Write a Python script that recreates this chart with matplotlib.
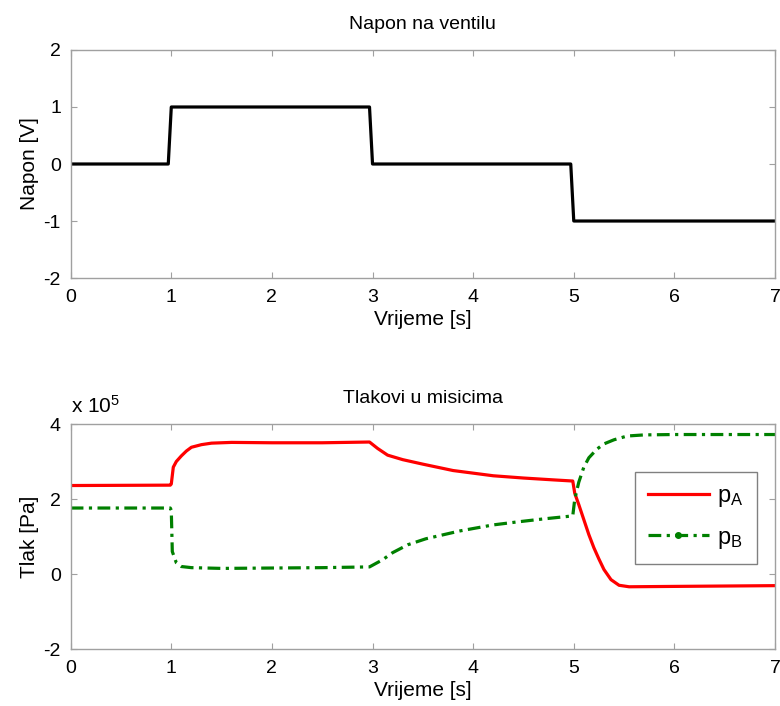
import numpy as np
import matplotlib
matplotlib.use('Agg')
import matplotlib.pyplot as plt
from matplotlib.lines import Line2D

plt.rcParams['font.family'] = ['Liberation Sans', 'DejaVu Sans']
plt.rcParams['mathtext.fontset'] = 'custom'
plt.rcParams['mathtext.rm'] = 'Liberation Sans'
plt.rcParams['mathtext.it'] = 'Liberation Sans'
plt.rcParams['axes.unicode_minus'] = False
plt.rcParams['font.size'] = 14

# napon na ventilu [V]
t_u = [0, 0.97, 1.0, 2.97, 3.0, 4.97, 5.0, 7.0]
u = [0, 0, 1, 1, 0, 0, -1, -1]

# tlakovi [x 1e5 Pa]
t_a = [0, 0.99, 1.0, 1.02, 1.05, 1.1, 1.15, 1.2, 1.3, 1.4, 1.6, 2.0, 2.5,
       2.97, 3.05, 3.15, 3.3, 3.5, 3.8, 4.2, 4.5, 4.8, 4.99, 5.01, 5.05,
       5.1, 5.15, 5.2, 5.25, 5.3, 5.37, 5.45, 5.55, 6.0, 6.5, 7.0]
p_a = [2.36, 2.37, 2.40, 2.85, 3.0, 3.15, 3.28, 3.38, 3.45, 3.49, 3.51,
       3.50, 3.50, 3.52, 3.35, 3.17, 3.05, 2.93, 2.76, 2.62, 2.56, 2.51,
       2.48, 2.15, 1.85, 1.45, 1.05, 0.7, 0.4, 0.12, -0.15, -0.3, -0.34,
       -0.33, -0.32, -0.31]
t_b = [0, 0.99, 1.0, 1.01, 1.05, 1.1, 1.2, 1.5, 2.0, 2.5, 2.97, 3.1, 3.2,
       3.35, 3.53, 3.87, 4.2, 4.44, 4.7, 4.99, 5.01, 5.05, 5.1, 5.15, 5.23,
       5.3, 5.4, 5.53, 5.7, 6.0, 7.0]
p_b = [1.76, 1.76, 1.70, 0.6, 0.3, 0.2, 0.17, 0.15, 0.16, 0.17, 0.19, 0.38,
       0.57, 0.78, 0.94, 1.15, 1.31, 1.39, 1.47, 1.55, 2.0, 2.45, 2.85, 3.1,
       3.33, 3.47, 3.58, 3.68, 3.71, 3.72, 3.72]

fig = plt.figure(figsize=(7.8, 7.06), dpi=100)
ax1 = fig.add_axes([0.0906, 0.6062, 0.903, 0.323])
ax2 = fig.add_axes([0.0906, 0.0807, 0.903, 0.3187])


def style(ax):
    for s in ax.spines.values():
        s.set_color('#a0a0a0')
        s.set_linewidth(1.0)
    ax.tick_params(direction='in', top=True, right=True, length=4,
                   color='#a0a0a0', labelcolor='black', labelsize=14)
    ax.tick_params(axis='x', pad=8)
    ax.tick_params(axis='y', pad=7)
    ax.set_xlim(0, 7)
    ax.set_xticks(range(8))


style(ax1)
ax1.plot(t_u, u, color='black', lw=2.3)
ax1.set_ylim(-2, 2)
ax1.set_yticks([-2, -1, 0, 1, 2])
ax1.set_title('Napon na ventilu', fontsize=14, pad=15)
ax1.set_xlabel('Vrijeme [s]', fontsize=15, labelpad=3)
ax1.set_ylabel('Napon [V]', fontsize=15, labelpad=3)

style(ax2)
ax2.plot(t_a, p_a, color='#ff0000', lw=2.3)
ax2.plot(t_b, p_b, color='#008000', lw=2.3, dashes=(4, 1.7, 1, 1.7))
ax2.set_ylim(-2, 4)
ax2.set_yticks([-2, 0, 2, 4])
ax2.set_title('Tlakovi u misicima', fontsize=14, pad=15)
ax2.set_xlabel('Vrijeme [s]', fontsize=15, labelpad=3)
ax2.set_ylabel('Tlak [Pa]', fontsize=15, labelpad=3)
ax2.text(0.0, 1.03, r'x 10$^5$', transform=ax2.transAxes, fontsize=15,
         ha='left', va='bottom')

handles = [Line2D([], [], color='#ff0000', lw=2.3),
           Line2D([], [], color='#008000', lw=2.3, dashes=(4, 1.7, 1, 1.7),
                  marker='o', markersize=4, markevery=[1])]
handles[1].set_data([0, 0.5, 1], [0, 0, 0])
leg = ax2.legend(handles, [r'p$_A$', r'p$_B$'], loc='upper right',
                 bbox_to_anchor=(0.974, 0.787), fontsize=17, handlelength=2.6,
                 handletextpad=0.35, labelspacing=0.75, borderpad=0.55,
                 borderaxespad=0, fancybox=False, framealpha=1,
                 edgecolor='#808080')
leg.get_frame().set_linewidth(1.0)

fig.savefig('out.png', dpi=100)
